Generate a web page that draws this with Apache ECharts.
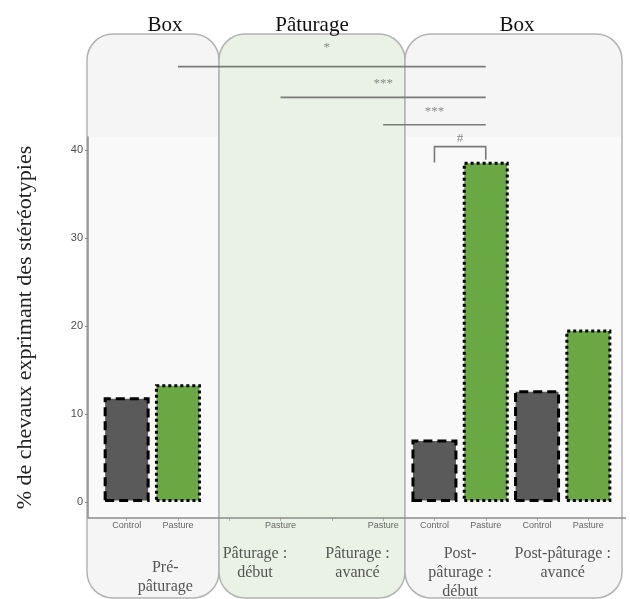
<!DOCTYPE html>
<html><head><meta charset="utf-8">
<script src="https://cdn.jsdelivr.net/npm/echarts@6/dist/echarts.min.js"></script>
<style>html,body{margin:0;padding:0;background:#fff}#c{width:630px;height:599px}</style>
</head><body><div id="c"></div>
<script>
// ---- data ----
const xLabels = ['Control','Pasture','','Pasture','','Pasture','Control','Pasture','Control','Pasture'];
const phases = ['Pré-\npâturage','Pâturage :\ndébut','Pâturage :\navancé','Post-\npâturage :\ndébut','Post-pâturage :\navancé'];
const controlValues = [11.9, null, null, null, null, null, 7.1, null, 12.7, null];
const pastureValues = [null, 13.4, null, null, null, null, null, 38.7, null, 19.6];
const yTicks = [0, 10, 20, 30, 40];
const headers = ['Box', 'Pâturage', 'Box'];
const yTitle = '% de chevaux exprimant des stéréotypies';
// significance annotations
const sigFrom = [1, 3, 5, 6];
const sigTo = [7, 7, 7, 7];
const sigLevel = [49.5, 46.0, 42.9, 40.4];
const sigLegLeft = [49.5, 46.0, 42.9, 38.6];
const sigLegRight = [49.5, 46.0, 42.9, 38.9];
const sigLabel = ['*', '***', '***', '#'];

// ---- layout / style ----
const serif = "'Liberation Serif', 'DejaVu Serif', serif";
const sans = "'Liberation Sans', Arial, sans-serif";
const labelGaps = [19, 14, 13, 8];
const panels = [
  {x: 87, w: 132, fill: '#f5f5f5', overlay: true},
  {x: 219, w: 186, fill: '#e9f2e4', overlay: false},
  {x: 405, w: 217, fill: '#f5f5f5', overlay: true}
];
const headerX = [165, 312, 517];

const chart = echarts.init(document.getElementById('c'), null, {renderer: 'canvas'});

const graphics = [];
panels.forEach((p, i) => {
  graphics.push({type: 'rect', z: -10, silent: true,
    shape: {x: p.x, y: 34, width: p.w, height: 564, r: 26},
    style: {fill: p.fill, stroke: '#b3b3b3', lineWidth: 1.5}});
  if (p.overlay) {
    graphics.push({type: 'rect', z: -9, silent: true,
      shape: {x: p.x + 1, y: 137, width: p.w - 2, height: 381},
      style: {fill: 'rgba(255,255,255,0.4)'}});
  }
  graphics.push({type: 'text', z: -5, silent: true, x: headerX[i], y: 25,
    style: {text: headers[i], font: '21px ' + serif, fill: '#111', align: 'center', verticalAlign: 'middle'}});
});
graphics.push({type: 'line', z: 5, silent: true,
  shape: {x1: 88, y1: 518, x2: 626, y2: 518},
  style: {stroke: '#8c8c8c', lineWidth: 1.5}});

const phaseData = phases.map((p, i) => i === 0
  ? {value: p, textStyle: {padding: [14, 0, 0, 26]}}
  : {value: p});

const sigData = sigFrom.map((f, i) => [f, sigTo[i], sigLevel[i], sigLegLeft[i], sigLegRight[i]]);

chart.setOption({
  animation: false,
  backgroundColor: '#ffffff',
  graphic: graphics,
  grid: {left: 101, right: 16, top: 137, bottom: 81, containLabel: false, outerBoundsMode: 'none'},
  xAxis: [{
    type: 'category', data: xLabels, gridIndex: 0, position: 'bottom',
    axisLine: {show: false, onZero: false},
    axisTick: {show: true, alignWithLabel: true, length: 3, lineStyle: {color: '#aaa'}},
    axisLabel: {fontFamily: sans, fontSize: 9, color: '#666', margin: 3, interval: 0}
  }, {
    type: 'category', data: phaseData, gridIndex: 0, position: 'bottom', offset: 0,
    axisLine: {show: false, onZero: false}, axisTick: {show: false},
    axisLabel: {fontFamily: serif, fontSize: 16, lineHeight: 19, color: '#555', margin: 26, interval: 0}
  }],
  yAxis: {
    type: 'value', min: -1.82, max: 41.5, offset: 13,
    name: yTitle, nameLocation: 'middle', nameGap: 52,
    nameTextStyle: {fontFamily: serif, fontSize: 22, color: '#222'},
    axisLine: {show: true, lineStyle: {color: '#8c8c8c', width: 1.5}},
    axisTick: {show: true, length: 3, customValues: yTicks, lineStyle: {color: '#888'}},
    axisLabel: {customValues: yTicks, fontFamily: sans, fontSize: 11, color: '#4d4d4d', margin: 5},
    splitLine: {show: false}
  },
  series: [{
    type: 'bar', name: 'Control', data: controlValues, barWidth: 46, barGap: '-100%', z: 3,
    itemStyle: {color: '#5a5a5a', borderColor: '#000', borderWidth: 3, borderType: [9, 5]}
  }, {
    type: 'bar', name: 'Pasture', data: pastureValues, barWidth: 46, barGap: '-100%', z: 3,
    itemStyle: {color: '#6aa843', borderColor: '#000', borderWidth: 3, borderType: [3, 3]}
  }, {
    type: 'custom', coordinateSystem: 'cartesian2d', data: sigData, clip: false, z: 6,
    renderItem: function (params, api) {
      const i = params.dataIndex;
      const a = api.coord([api.value(0), api.value(3)]);
      const b = api.coord([api.value(0), api.value(2)]);
      const c = api.coord([api.value(1), api.value(2)]);
      const d = api.coord([api.value(1), api.value(4)]);
      return {
        type: 'group',
        children: [{
          type: 'polyline',
          shape: {points: [a, b, c, d]},
          style: {stroke: '#7a7a7a', lineWidth: 1.6, fill: null}
        }, {
          type: 'text',
          x: (b[0] + c[0]) / 2 - (i === 0 ? 5 : 0), y: b[1] - labelGaps[i],
          style: {text: sigLabel[i], font: '13px ' + serif, fill: '#8a8a8a', align: 'center', verticalAlign: 'middle'}
        }]
      };
    }
  }]
});
</script></body></html>
